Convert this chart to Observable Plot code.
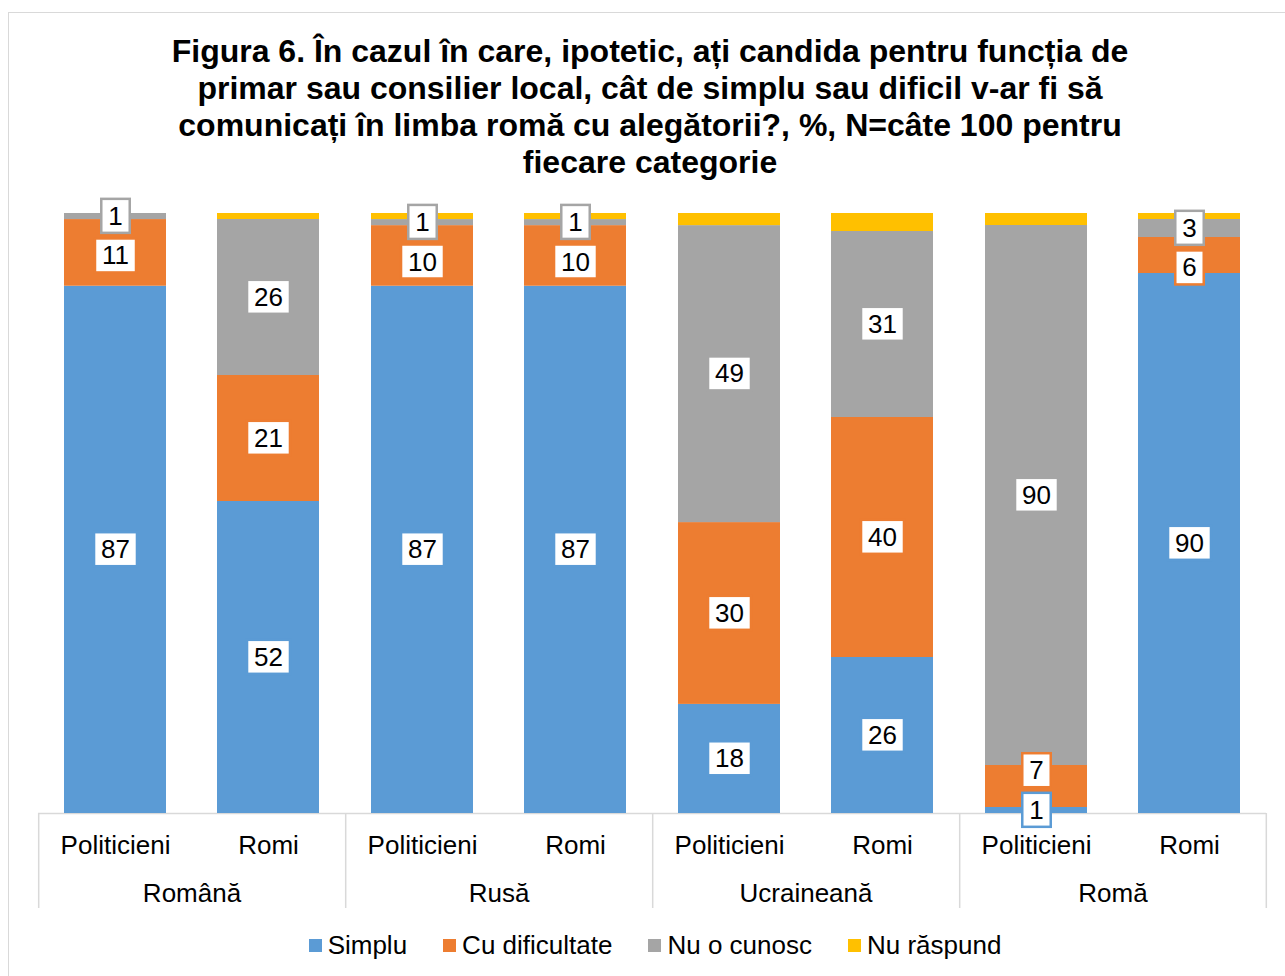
<!DOCTYPE html>
<html><head><meta charset="utf-8">
<script src="https://cdn.jsdelivr.net/npm/d3@7"></script>
<script src="https://cdn.jsdelivr.net/npm/@observablehq/plot@0.6"></script>
<style>
body{margin:0;background:#fff;font-family:"Liberation Sans",Arial,sans-serif;color:#000;overflow:hidden;}
#border{position:absolute;left:8px;top:12px;width:1300px;height:1000px;border:1px solid #d9d9d9;box-sizing:border-box;}
#title{position:absolute;left:0;top:33px;width:1300px;text-align:center;font-weight:bold;font-size:32px;line-height:37px;}
#chart{position:absolute;left:0;top:190px;}
#legend{position:absolute;left:0;top:929px;width:1310px;display:flex;justify-content:center;font-size:26px;line-height:32px;}
.item{display:flex;align-items:center;margin:0 18px;}
.sw{width:13px;height:13px;margin-right:6px;}
</style></head><body>
<div id="border"></div>
<div id="title">Figura 6. În cazul în care, ipotetic, ați candida pentru funcția de<br>primar sau consilier local, cât de simplu sau dificil v-ar fi să<br>comunicați în limba romă cu alegătorii?, %, N=câte 100 pentru<br>fiecare categorie</div>
<div id="chart"></div>
<div id="legend"></div>
<script>
const languages = ["Română", "Rusă", "Ucraineană", "Romă"];
const groups = ["Politicieni", "Romi"];
const series = ["Simplu", "Cu dificultate", "Nu o cunosc", "Nu răspund"];
const colors = ["#5B9BD5", "#ED7D31", "#A5A5A5", "#FFC000"];
// values per bar: Română/Politicieni, Română/Romi, Rusă/Politicieni, Rusă/Romi, Ucraineană/Politicieni, Ucraineană/Romi, Romă/Politicieni, Romă/Romi
const simplu = [87, 52, 87, 87, 18, 26, 1, 90];
const cuDificultate = [11, 21, 10, 10, 30, 40, 7, 6];
const nuOCunosc = [1, 26, 1, 1, 49, 31, 90, 3];
const nuRaspund = [0, 1, 1, 1, 2, 3, 2, 1];
const valuesBySeries = [simplu, cuDificultate, nuOCunosc, nuRaspund];

const W = 1285, H = 740, mt = 23, mb = 117, ml = 37, mr = 19;
const step = (W - ml - mr) / languages.length / groups.length;
// near-black marker fills identify each label series for the callout boxes
const labelFills = ["#000001", "#000002", "#000003"];

const rows = [];
const labels = [[], [], []];
languages.forEach((lang, li) => {
  groups.forEach((sub, gi) => {
    const i = li * groups.length + gi;
    const vals = valuesBySeries.map(a => a[i]);
    const total = d3.sum(vals);
    let cum = 0;
    const bl = [];
    vals.forEach((v, s) => {
      rows.push({lang, sub, series: series[s], value: v});
      if (s < 3 && v > 0) bl.push({lang, sub, s, v, c: (cum + v / 2) / total});
      cum += v;
    });
    // avoid overlapping labels inside a bar
    const minGap = 0.066;
    for (let k = 0; k < bl.length - 1; k++) {
      const a = bl[k], b = bl[k + 1];
      if (b.c - a.c < minGap) {
        if (a.v >= b.v) a.c = b.c - minGap; else b.c = a.c + minGap;
      }
    }
    bl.forEach(d => labels[d.s].push(d));
  });
});

const plot = Plot.plot({
  width: W, height: H,
  marginTop: mt, marginBottom: mb, marginLeft: ml, marginRight: mr,
  style: {fontFamily: '"Liberation Sans", Arial, sans-serif', fontSize: "26px", color: "#000", background: "transparent"},
  fx: {domain: languages, padding: 0, label: null},
  x: {domain: groups, paddingInner: 0.336, paddingOuter: 0.168, label: null},
  y: {axis: null, domain: [0, 1]},
  color: {domain: series, range: colors},
  marks: [
    Plot.ruleY([0], {stroke: "#d9d9d9", strokeWidth: 1.5}),
    Plot.barY(rows, Plot.stackY({fx: "lang", x: "sub", y: "value", fill: "series", offset: "normalize"})),
    ...labels.map((arr, s) => Plot.text(arr, {
      fx: "lang", x: "sub", y: "c", text: d => String(d.v),
      fontSize: 26, fill: labelFills[s]
    })),
    Plot.ruleX(languages, {fx: d => d, x: () => groups[0], y1: () => 0, y2: () => 0, insetBottom: -95, dx: -step / 2, stroke: "#d9d9d9", strokeWidth: 1.5}),
    Plot.ruleX([languages[languages.length - 1]], {fx: d => d, x: () => groups[groups.length - 1], y1: () => 0, y2: () => 0, insetBottom: -95, dx: step / 2, stroke: "#d9d9d9", strokeWidth: 1.5}),
    Plot.axisX({tickSize: 0, tickPadding: 22, fontSize: 26, label: null}),
    Plot.axisFx({anchor: "bottom", tickSize: 0, tickPadding: 70, fontSize: 26, label: null})
  ]
});
document.getElementById("chart").appendChild(plot);

// white callout boxes behind data labels
const ns = "http://www.w3.org/2000/svg";
plot.querySelectorAll("text").forEach(t => {
  let fill = null, el = t;
  while (el && el !== plot) {
    const f = el.getAttribute && el.getAttribute("fill");
    if (f) { fill = f.toLowerCase(); break; }
    el = el.parentNode;
  }
  const s = labelFills.indexOf(fill);
  if (s < 0) return;
  const b = t.getBBox();
  const r = document.createElementNS(ns, "rect");
  r.setAttribute("x", b.x - 7);
  r.setAttribute("y", b.y - 2);
  r.setAttribute("width", b.width + 14);
  r.setAttribute("height", b.height + 4);
  r.setAttribute("fill", "#fff");
  r.setAttribute("stroke", colors[s]);
  r.setAttribute("stroke-width", 2.5);
  const tr = t.getAttribute("transform");
  if (tr) r.setAttribute("transform", tr);
  t.parentNode.insertBefore(r, t);
});

const legend = document.getElementById("legend");
series.forEach((name, s) => {
  const it = document.createElement("div");
  it.className = "item";
  const sw = document.createElement("span");
  sw.className = "sw";
  sw.style.background = colors[s];
  it.appendChild(sw);
  it.appendChild(document.createTextNode(name));
  legend.appendChild(it);
});
</script>
</body></html>
